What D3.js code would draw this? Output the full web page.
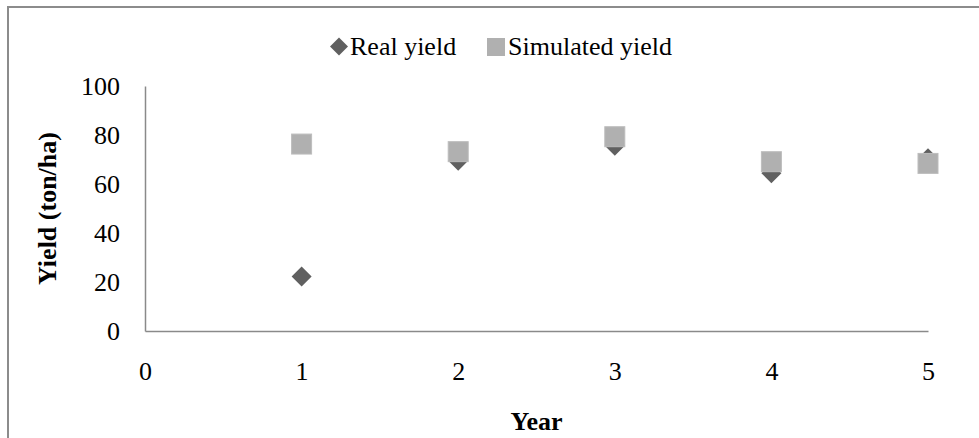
<!DOCTYPE html>
<html>
<head>
<meta charset="utf-8">
<script src="https://cdn.jsdelivr.net/npm/d3@7"></script>
<style>
  html, body { margin: 0; padding: 0; background: #fff; }
  svg { display: block; font-family: "Liberation Serif", "Times New Roman", serif; }
</style>
</head>
<body>
<svg id="chart" width="979" height="438"></svg>
<script>
// Yield per year: measured vs. model output
const years = [1, 2, 3, 4, 5];
const realYield = [22.2, 69.5, 75.6, 64.4, 70.5];
const simulatedYield = [76.3, 73.2, 79.3, 69.1, 68.4];
const xTicks = [0, 1, 2, 3, 4, 5];
const yTicks = [0, 20, 40, 60, 80, 100];
const seriesNames = ["Real yield", "Simulated yield"];

const svg = d3.select("#chart");
const W = 979, H = 438;
const plot = { left: 145, right: 928, top: 86, bottom: 331 };
const fs = 26;
const serif = "Liberation Serif, Times New Roman, serif";

// Outer chart frame (runs past the right and bottom edges)
svg.append("rect")
  .attr("x", 8).attr("y", 7)
  .attr("width", W + 20).attr("height", H + 20)
  .attr("fill", "none").attr("stroke", "#8c8c8c").attr("stroke-width", 2);

const x = d3.scaleLinear().domain([0, 5]).range([plot.left, plot.right]);
const y = d3.scaleLinear().domain([0, 100]).range([plot.bottom, plot.top]);

// Axes: plain lines with text labels, no tick marks
const xAxis = svg.append("g")
  .attr("transform", `translate(0,${plot.bottom})`)
  .call(d3.axisBottom(x).tickValues(xTicks).tickSize(0).tickPadding(0).tickFormat(d3.format("d")));
xAxis.select(".domain").attr("stroke", "#8a8a8a").attr("stroke-width", 1.5);
xAxis.selectAll("text")
  .attr("y", 49).attr("dy", null)
  .attr("fill", "#000").attr("font-size", fs)
  .attr("font-family", serif);

const yAxis = svg.append("g")
  .attr("transform", `translate(${plot.left},0)`)
  .call(d3.axisLeft(y).tickValues(yTicks).tickSize(0).tickPadding(0).tickFormat(d3.format("d")));
yAxis.select(".domain").attr("stroke", "#8a8a8a").attr("stroke-width", 1.5);
yAxis.selectAll("text")
  .attr("x", -25).attr("dy", "0.33em")
  .attr("fill", "#000").attr("font-size", fs)
  .attr("font-family", serif);

// Axis titles
svg.append("text")
  .attr("x", (plot.left + plot.right) / 2).attr("y", 430)
  .attr("text-anchor", "middle")
  .attr("font-size", fs).attr("font-weight", "bold")
  .text("Year");

svg.append("text")
  .attr("transform", `translate(56,${(plot.top + plot.bottom) / 2}) rotate(-90)`)
  .attr("text-anchor", "middle")
  .attr("font-size", fs).attr("font-weight", "bold")
  .text("Yield (ton/ha)");

const diamondColor = "#606060";
const squareColor = "#b0b0b0";
const diamond = d3.symbol().type(d3.symbolSquare).size(200);

// Real yield: diamonds
svg.append("g").selectAll("path")
  .data(years.map((yr, i) => ({ yr, v: realYield[i] })))
  .join("path")
  .attr("d", diamond)
  .attr("transform", d => `translate(${x(d.yr)},${y(d.v)}) rotate(45)`)
  .attr("fill", diamondColor);

// Simulated yield: squares, drawn on top
const sq = 20;
svg.append("g").selectAll("rect")
  .data(years.map((yr, i) => ({ yr, v: simulatedYield[i] })))
  .join("rect")
  .attr("x", d => x(d.yr) - sq / 2)
  .attr("y", d => y(d.v) - sq / 2)
  .attr("width", sq).attr("height", sq)
  .attr("fill", squareColor)
  .attr("stroke", "#bdbdbd").attr("stroke-width", 1);

// Legend
const legend = svg.append("g");
legend.append("path")
  .attr("d", d3.symbol().type(d3.symbolSquare).size(162))
  .attr("transform", "translate(339,46.5) rotate(45)")
  .attr("fill", diamondColor);
legend.append("text")
  .attr("x", 350).attr("y", 55)
  .attr("font-size", fs).text(seriesNames[0]);
legend.append("rect")
  .attr("x", 487).attr("y", 38).attr("width", 18).attr("height", 18)
  .attr("fill", squareColor);
legend.append("text")
  .attr("x", 508).attr("y", 55)
  .attr("font-size", fs).text(seriesNames[1]);
</script>
</body>
</html>
